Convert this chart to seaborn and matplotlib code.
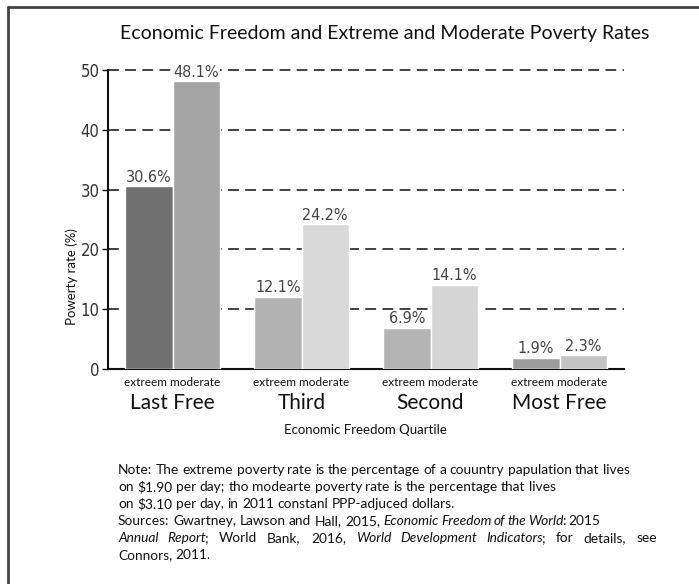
import matplotlib
matplotlib.use("Agg")
import matplotlib.pyplot as plt
import pandas as pd
import seaborn as sns

# ---- data ----
quartiles = ["Last Free", "Third", "Second", "Most Free"]
measures = ["extreem", "moderate"]
extreme_rates = [30.6, 12.1, 6.9, 1.9]
moderate_rates = [48.1, 24.2, 14.1, 2.3]
yticks = [0, 10, 20, 30, 40, 50]

title = "Economic Freedom and Extreme and Moderate Poverty Rates"
ylabel = "Powerty rate (%)"
xlabel = "Economic Freedom Quartile"

# ---- style ----
extreme_colors = ["#707070", "#b3b3b3", "#b4b4b4", "#9d9d9d"]
moderate_colors = ["#a5a5a5", "#d9d9d9", "#d6d6d6", "#c4c4c4"]

W, H = 699, 584
df = pd.DataFrame({
    "quartile": quartiles * 2,
    "measure": [measures[0]] * 4 + [measures[1]] * 4,
    "rate": extreme_rates + moderate_rates,
})

sns.set_theme(style="white")
plt.rcParams["font.family"] = ["Lato", "DejaVu Sans"]
NARROW = dict(fontfamily=["DejaVu Sans"], fontstretch="condensed")

fig = plt.figure(figsize=(W / 100, H / 100), dpi=100)
fig.patch.set_facecolor("white")

def fx(px):
    return px / W

def fy(py):
    return 1 - py / H

AX_BOTTOM, AX_TOP = 369, 70
ax = fig.add_axes([fx(108), fy(AX_BOTTOM), fx(624) - fx(108), fy(AX_TOP) - fy(AX_BOTTOM)])
sns.barplot(data=df, x="quartile", y="rate", hue="measure", order=quartiles,
            hue_order=measures, width=0.73, ax=ax, legend=False,
            edgecolor="white", linewidth=1, saturation=1, zorder=3)

for cont, cols in zip(ax.containers, [extreme_colors, moderate_colors]):
    for bar, c in zip(cont, cols):
        bar.set_facecolor(c)

ax.set_ylim(0, 50)
ax.set_xlim(-0.5, 3.5)
ax.set_yticks(yticks)
ax.set_yticklabels([str(t) for t in yticks], fontsize=12, color="#333333", **NARROW)
for t in yticks[1:]:
    ax.axhline(t, color="#333333", lw=1.3, ls=(0, (6, 3.5)), zorder=1, clip_on=False)

for cont in ax.containers:
    for bar in cont:
        h = bar.get_height()
        ax.annotate(f"{h:.1f}%", (bar.get_x() + bar.get_width() / 2, h),
                    xytext=(0, 1), textcoords="offset points", ha="center", va="bottom",
                    fontsize=11.5, color="#444444",
                    bbox=dict(fc="white", ec="none", pad=1.0), zorder=5,
                    annotation_clip=False, **NARROW)

for s in ["top", "right"]:
    ax.spines[s].set_visible(False)
for s in ["left", "bottom"]:
    ax.spines[s].set_color("#111111")
    ax.spines[s].set_linewidth(1.5)
ax.tick_params(axis="y", length=4, width=1, color="#111111", direction="out", pad=2, left=True)
ax.tick_params(axis="x", length=0, labelbottom=False)
ax.set_xlabel("")
ax.set_ylabel("")

ax_h = AX_BOTTOM - AX_TOP
trans = ax.get_xaxis_transform()
for i, q in enumerate(quartiles):
    ax.text(i, (AX_BOTTOM - 383) / ax_h, " ".join(measures), transform=trans, ha="center",
            va="center", fontsize=8.5, color="#111111")
    ax.text(i, (AX_BOTTOM - 403) / ax_h, q, transform=trans, ha="center", va="center",
            fontsize=15, color="#111111")

fig.text(fx(385), fy(33), title, ha="center", va="center", fontsize=14, color="#111111")
fig.text(fx(72), fy(277), ylabel, ha="center", va="center", rotation=90, fontsize=9.5, color="#111111")
fig.text(fx(365), fy(430), xlabel, ha="center", va="center", fontsize=9.5, color="#111111")

# frame (top and left only)
fig.add_artist(plt.Line2D([fx(8), 1.0], [fy(7), fy(7)], color="#444444", lw=2, transform=fig.transFigure))
fig.add_artist(plt.Line2D([fx(8), fx(8)], [fy(7), 0.0], color="#444444", lw=2, transform=fig.transFigure))

# ---- note text with mixed italics ----
note_lines = [
    [("Note: The extreme poverty rate is the percentage of a couuntry papulation that lives", "normal")],
    [("on $1.90 per day; tho modearte poverty rate is the percentage that lives", "normal")],
    [("on $3.10 per day, in 2011 constanl PPP-adjuced dollars.", "normal")],
    [("Sources: Gwartney, Lawson and Hall, 2015,", "normal"),
     ("Economic Freedom of the World", "italic"), (": 2015", "normal")],
    [("Annual Report", "italic"), ("; World Bank, 2016,", "normal"),
     ("World Development Indicators", "italic"), ("; for details, see", "normal")],
    [("Connors, 2011.", "normal")],
]
justify = [False, False, False, False, True, False]
note_fs = 9.9
x0, x_right = 118, 657
line_y = [470, 487, 504, 521, 538, 555]

renderer = fig.canvas.get_renderer()

def width_of(s, style):
    t = fig.text(0, 0, s, fontsize=note_fs, style=style)
    w = t.get_window_extent(renderer).width
    t.remove()
    return w

space_w = width_of("a a", "normal") - width_of("aa", "normal")

for segs, just, yy in zip(note_lines, justify, line_y):
    words = []
    for k, (s, st) in enumerate(segs):
        toks = s.split(" ")
        for j, tok in enumerate(toks):
            if tok == "":
                continue
            glue = (j == 0 and k > 0 and tok[0] in ":;,.")
            words.append([tok, st, glue])
    groups = []
    for tok, st, glue in words:
        if glue and groups:
            groups[-1].append((tok, st))
        else:
            groups.append([(tok, st)])
    gw = [sum(width_of(t, st) - (1.5 if st == "italic" else 0) for t, st in g) for g in groups]
    if just and len(groups) > 1:
        gap = (x_right - x0 - sum(gw)) / (len(groups) - 1)
    else:
        gap = space_w
    x = x0
    for g, w in zip(groups, gw):
        xx = x
        for t, st in g:
            fig.text(fx(xx), fy(yy), t, fontsize=note_fs, style=st, ha="left", va="center",
                     color="#111111")
            xx += width_of(t, st) - (1.5 if st == "italic" else 0)
        x += w + gap

fig.savefig("out.png", dpi=100, facecolor="white")
